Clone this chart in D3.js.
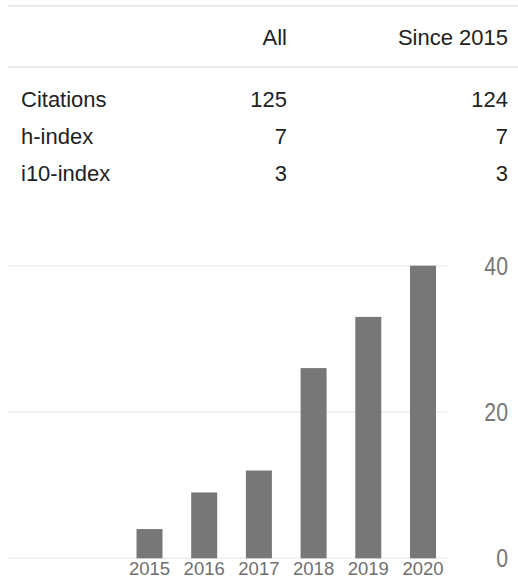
<!DOCTYPE html>
<html>
<head>
<meta charset="utf-8">
<script src="https://cdn.jsdelivr.net/npm/d3@7"></script>
<style>
  html, body { margin: 0; padding: 0; background: #fff; }
  svg { display: block; }
  text { font-family: Arial, "Liberation Sans", sans-serif; }
</style>
</head>
<body>
<svg id="chart" width="518" height="579"></svg>
<script>
// ---- data ----
const tableColumns = ["All", "Since 2015"];
const tableRows = ["Citations", "h-index", "i10-index"];
const valuesAll = [125, 7, 3];
const valuesSince = [124, 7, 3];

const years = ["2015", "2016", "2017", "2018", "2019", "2020"];
const citations = [4, 9, 12, 26, 33, 40];
const yTicks = [0, 20, 40];

// ---- drawing ----
const svg = d3.select("#chart");

// table lines
const tableLineY = [6, 67];
svg.selectAll("line.tbl").data(tableLineY).join("line")
  .attr("class", "tbl")
  .attr("x1", 8).attr("x2", 518)
  .attr("y1", d => d).attr("y2", d => d)
  .attr("stroke", "#ebebeb").attr("stroke-width", 2);

const colRight = [287, 508];
svg.selectAll("text.hdr").data(tableColumns).join("text")
  .attr("class", "hdr")
  .attr("x", (d, i) => colRight[i]).attr("y", 45)
  .attr("text-anchor", "end")
  .attr("font-size", 22).attr("fill", "#222")
  .text(d => d);

const rowY = d3.scalePoint().domain(tableRows).range([107, 181]);
const rows = svg.selectAll("g.row").data(tableRows).join("g")
  .attr("class", "row")
  .attr("transform", d => `translate(0,${rowY(d)})`);
rows.append("text").attr("x", 21).attr("font-size", 22).attr("fill", "#222").text(d => d);
rows.append("text").attr("x", colRight[0]).attr("text-anchor", "end")
  .attr("font-size", 22).attr("fill", "#222").text((d, i) => valuesAll[i]);
rows.append("text").attr("x", colRight[1]).attr("text-anchor", "end")
  .attr("font-size", 22).attr("fill", "#222").text((d, i) => valuesSince[i]);

// chart
const x = d3.scaleBand().domain(years).range([122.15, 450.35])
  .paddingInner(0.525).paddingOuter(0.2625);
const y = d3.scaleLinear().domain([0, 40]).range([558.3, 265.7]);

svg.selectAll("line.grid").data(yTicks).join("line")
  .attr("class", "grid")
  .attr("x1", 8).attr("x2", 447)
  .attr("y1", d => y(d)).attr("y2", d => y(d))
  .attr("stroke", "#eeeeee").attr("stroke-width", 1.5);

svg.selectAll("rect.bar").data(citations).join("rect")
  .attr("class", "bar")
  .attr("x", (d, i) => x(years[i]))
  .attr("width", x.bandwidth())
  .attr("y", d => y(d))
  .attr("height", d => y(0) - y(d))
  .attr("fill", "#777777");

svg.selectAll("text.year").data(years).join("text")
  .attr("class", "year")
  .attr("x", d => x(d) + x.bandwidth() / 2)
  .attr("y", 575)
  .attr("text-anchor", "middle")
  .attr("font-size", 18.5).attr("fill", "#6f6f6f")
  .text(d => d);

svg.selectAll("text.ytick").data(yTicks).join("text")
  .attr("class", "ytick")
  .attr("transform", d => `translate(508,${y(d) + 9}) scale(0.85,1)`)
  .attr("text-anchor", "end")
  .attr("font-size", 25).attr("fill", "#777777")
  .text(d => d);
</script>
</body>
</html>
